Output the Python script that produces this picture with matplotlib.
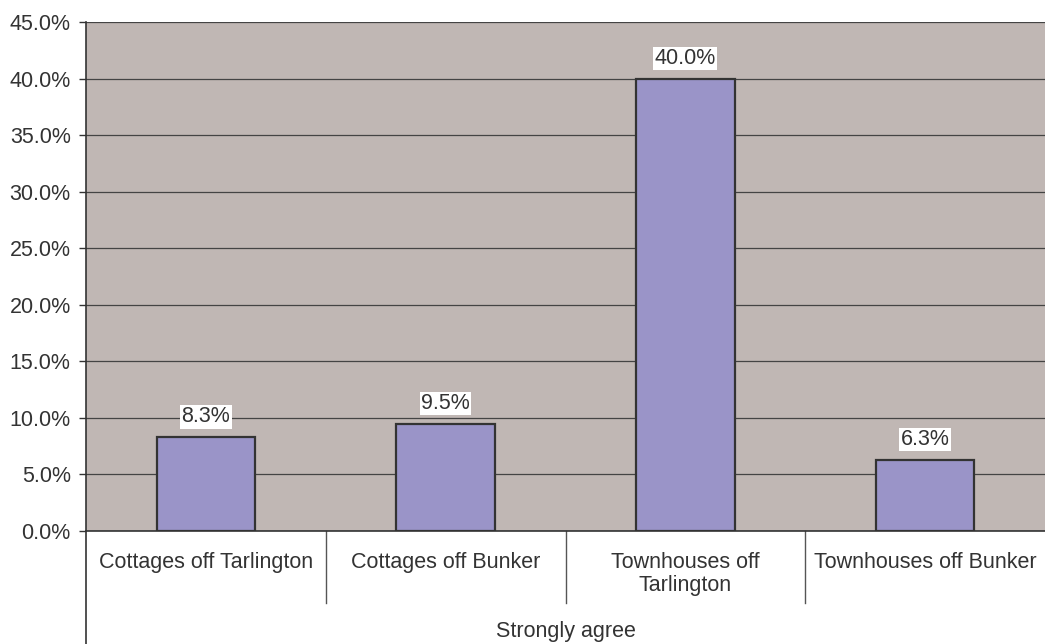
import matplotlib
matplotlib.use('Agg')
import matplotlib.pyplot as plt
from matplotlib.ticker import FuncFormatter, MultipleLocator

plt.rcParams['font.family'] = ['Liberation Sans', 'DejaVu Sans']

categories = ['Cottages off Tarlington', 'Cottages off Bunker',
              'Townhouses off\nTarlington', 'Townhouses off Bunker']
values = [8.3, 9.5, 40.0, 6.3]
group_label = 'Strongly agree'

fs = 15.5
fig = plt.figure(figsize=(10.45, 6.44), dpi=100)
ax = fig.add_axes([86/1045, 113/644, 1 - 86/1045, 509/644])
ax.set_facecolor('#C0B7B4')

x = list(range(len(values)))
ax.bar(x, values, width=0.41, color='#9A94C8', edgecolor='#333333', linewidth=1.6, zorder=3)
ax.set_xlim(-0.5, len(values) - 0.5)
ax.set_ylim(0, 45)
ax.yaxis.set_major_locator(MultipleLocator(5))
ax.yaxis.set_major_formatter(FuncFormatter(lambda v, p: '%.1f%%' % v))
ax.grid(axis='y', color='#444444', linewidth=0.9, zorder=1)
ax.set_axisbelow(True)
ax.tick_params(axis='y', labelsize=fs, colors='#333333', length=5, width=1, direction='out', pad=6)
ax.tick_params(axis='x', bottom=False, labelbottom=False)
for s in ['top', 'right']:
    ax.spines[s].set_visible(False)
ax.spines['left'].set_color('#333333')
ax.spines['bottom'].set_color('#333333')
ax.spines['left'].set_linewidth(1.2)
ax.spines['bottom'].set_linewidth(1.2)

for xi, v in zip(x, values):
    ax.annotate('%.1f%%' % v, (xi, v), xytext=(0, 7), textcoords='offset points',
                ha='center', va='bottom', fontsize=fs, color='#333333',
                bbox=dict(facecolor='white', edgecolor='none', pad=1.0))

# category labels below the axis
trans = ax.get_xaxis_transform()
for xi, c in zip(x, categories):
    ax.text(xi, -21/509, c, transform=trans, ha='center', va='top', fontsize=fs,
            color='#333333', linespacing=1.15)
for xi in x[:-1]:
    ax.plot([xi + 0.5, xi + 0.5], [0, -72/509], transform=trans, color='#555555',
            linewidth=1, clip_on=False)
ax.plot([-0.5, -0.5], [0, -113/509], transform=trans, color='#333333',
        linewidth=1.2, clip_on=False)
ax.text(1.5, -101/509, group_label, transform=trans, ha='center', va='center',
        fontsize=fs, color='#333333')

fig.savefig('out.png', dpi=100)
